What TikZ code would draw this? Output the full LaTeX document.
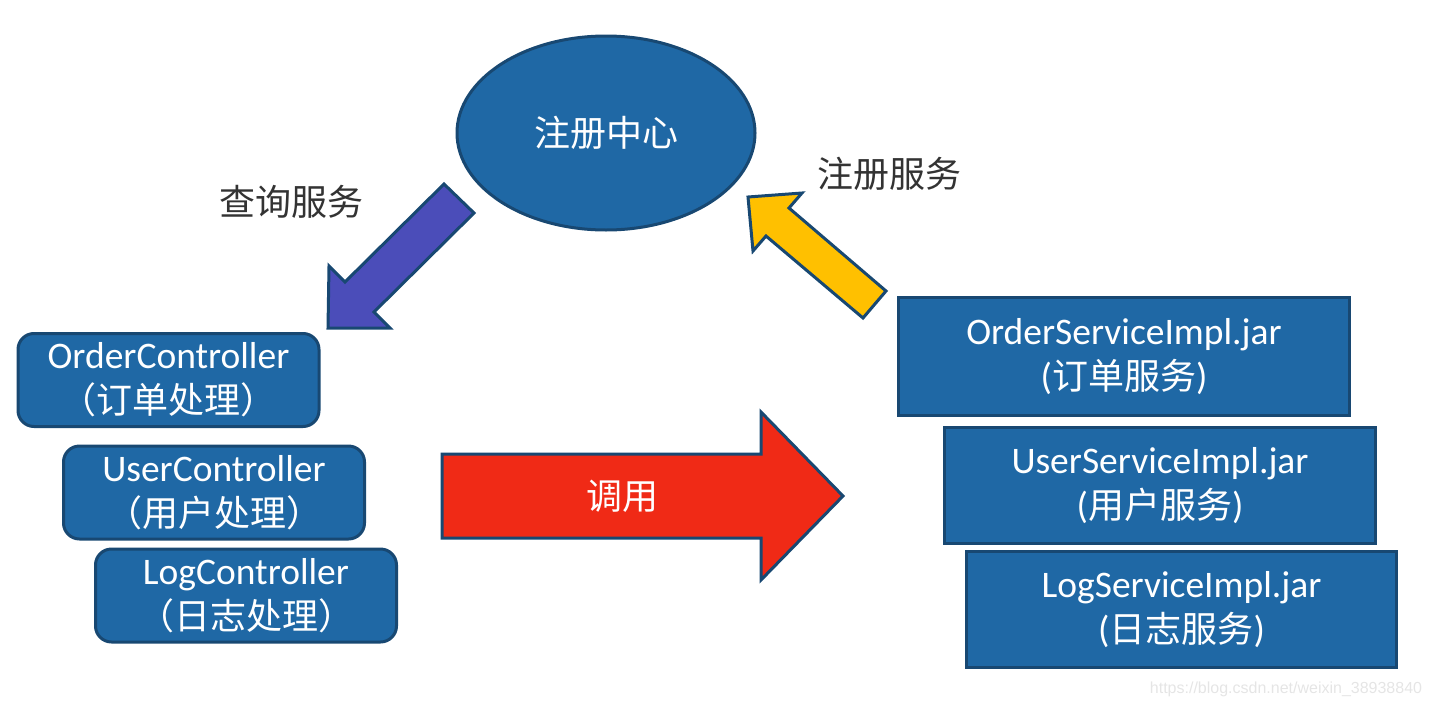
\documentclass[tikz,border=0pt]{standalone}
\usepackage{fontspec}
\setmainfont{Carlito}
\newfontfamily\cjkfont[Scale=0.96]{Noto Sans CJK SC}
\newfontfamily\markfont{Liberation Sans}
\usetikzlibrary{shapes.geometric}

\definecolor{boxblue}{RGB}{31,104,165}
\definecolor{edgeblue}{RGB}{24,72,114}
\definecolor{queryviolet}{RGB}{75,77,185}
\definecolor{callred}{RGB}{240,42,22}
\definecolor{regyellow}{RGB}{255,192,0}
\definecolor{labelgray}{RGB}{51,51,51}

\begin{document}
\begin{tikzpicture}[
    x=1pt, y=-1pt,
    font=\fontsize{37.5}{45}\selectfont,
    ctrlbox/.style={draw=edgeblue, line width=3pt, fill=boxblue, rounded corners=16pt,
      minimum width=301pt, minimum height=93pt, text=white, align=center, inner sep=0pt},
    implbox/.style={draw=edgeblue, line width=3pt, fill=boxblue,
      minimum height=116pt, text=white, align=center, inner sep=0pt},
    blockarrow/.style={draw=edgeblue, line width=3pt, line join=miter},
    steplabel/.style={text=labelgray, font=\fontsize{37.5}{45}\selectfont\cjkfont},
]
\useasboundingbox (0,0) rectangle (1432,707);

% Registry center
\node[ellipse, draw=edgeblue, line width=3pt, fill=boxblue, minimum width=298pt,
      minimum height=194pt, text=white, font=\fontsize{37.5}{45}\selectfont\cjkfont]
      (registry) at (606,133) {注册中心};

% Step labels
\node[steplabel] (query) at (291,202) {查询服务};
\node[steplabel] (register) at (889,174) {注册服务};

% Consumer side
\node[ctrlbox] (orderctrl) at (168.5,380) {OrderController\\\cjkfont （订单处理）};
\node[ctrlbox] (userctrl) at (214,492.5) {UserController\\\cjkfont （用户处理）};
\node[ctrlbox] (logctrl) at (246,595.5) {LogController\\\cjkfont （日志处理）};

% Provider side
\node[implbox, minimum width=451pt, minimum height=118pt] (orderimpl) at (1124,356.5)
      {OrderServiceImpl.jar\\({\cjkfont 订单服务})};
\node[implbox, minimum width=431pt] (userimpl) at (1160,485.5)
      {UserServiceImpl.jar\\({\cjkfont 用户服务})};
\node[implbox, minimum width=430pt] (logimpl) at (1181.5,609.5)
      {LogServiceImpl.jar\\({\cjkfont 日志服务})};

% Block arrows
\draw[blockarrow, fill=queryviolet] (444,184) -- (345,282) -- (329,266) -- (328,328)
      -- (390,328) -- (374,312) -- (474,213) -- cycle;
\draw[blockarrow, fill=regyellow] (886,291) -- (789,208) -- (802,193) -- (748,197)
      -- (753,251) -- (766,236) -- (863,318) -- cycle;
\draw[blockarrow, fill=callred] (442,454) -- (761,454) -- (761,412) -- (843,496)
      -- (761,580) -- (761,538) -- (442,538) -- cycle;
\node[text=white, font=\fontsize{37.5}{45}\selectfont\cjkfont] (call) at (622,496) {调用};

% Watermark
\node[text=black!10, font=\fontsize{16}{19}\selectfont\markfont] (mark) at (1286,689)
      {https://blog.csdn.net/weixin\_38938840};

\end{tikzpicture}
\end{document}
